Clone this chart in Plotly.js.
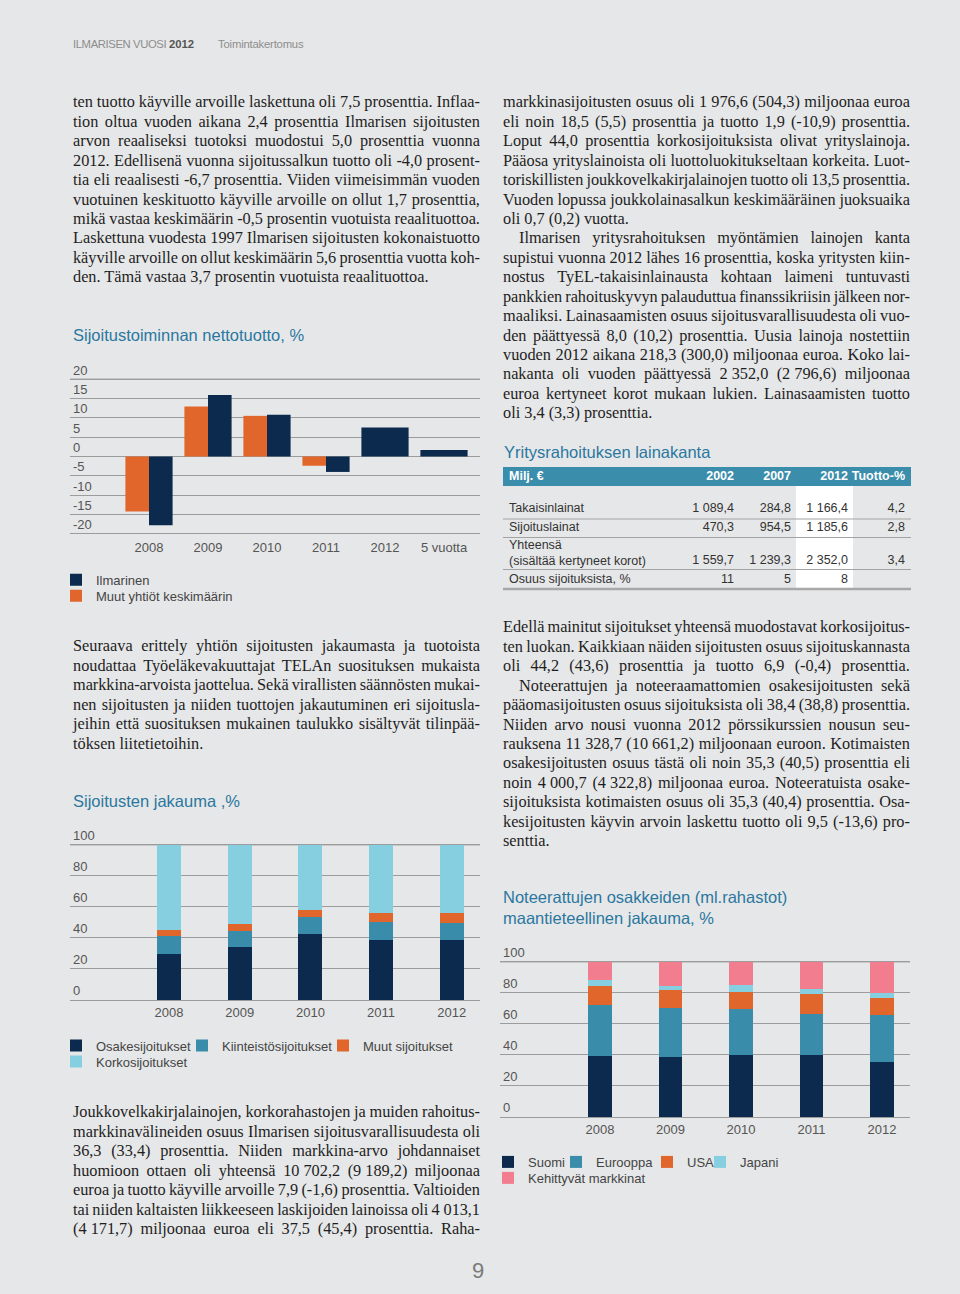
<!DOCTYPE html>
<html>
<head>
<meta charset="utf-8">
<script src="https://cdn.plot.ly/plotly-3.0.1.min.js"></script>
<style>
html,body{margin:0;padding:0;background:#e6e7e8;}
#page{position:relative;width:960px;height:1294px;background:#e6e7e8;overflow:hidden;}
.ln{position:absolute;font-family:'Liberation Serif',serif;color:#1e1e1e;white-space:nowrap;box-sizing:border-box;}
.ln.just{display:flex;justify-content:space-between;}
.chart{position:absolute;}
#hdr{position:absolute;left:73px;top:38px;font-family:'Liberation Sans',sans-serif;font-size:11.3px;color:#8d8d8d;letter-spacing:-0.4px;}
#hdr b{color:#555;letter-spacing:0;}
#pgn{position:absolute;left:472px;top:1258px;font-family:'Liberation Sans',sans-serif;font-size:22px;color:#7a7a7a;}
</style>
</head>
<body>
<div id="page">
  <div id="hdr">ILMARISEN VUOSI <b>2012</b><span style="margin-left:24px;letter-spacing:-0.2px;">Toimintakertomus</span></div>
  <div id="pgn">9</div>
  <div id="c1" class="chart" style="left:60px;top:315px;width:440px;height:300px;"></div>
  <div id="c2" class="chart" style="left:60px;top:780px;width:440px;height:300px;"></div>
  <div id="c3" class="chart" style="left:490px;top:875px;width:440px;height:320px;"></div>
  <div id="tb" class="chart" style="left:490px;top:440px;width:440px;height:160px;"></div>
</div>
<script>
// ---------- Chart 1 data: Sijoitustoiminnan nettotuotto, % ----------
const c1Categories = ['2008', '2009', '2010', '2011', '2012', '5 vuotta'];
const c1Ilmarinen = [-17.8, 15.9, 10.8, -4.0, 7.5, 1.7];
const c1Muut = [-14.2, 12.9, 10.5, -2.4, null, null];
const c1Ticks = [-20, -15, -10, -5, 0, 5, 10, 15, 20];

// ---------- Chart 2 data: Sijoitusten jakauma, % ----------
const c2Years = ['2008', '2009', '2010', '2011', '2012'];
const c2Osake = [29.4, 34.5, 42.5, 38.8, 38.4];
const c2Kiinteisto = [11.6, 9.9, 10.7, 11.4, 11.4];
const c2Muut = [4.3, 4.7, 5.0, 6.2, 6.0];
const c2Korko = [54.7, 50.9, 41.8, 43.6, 44.2];

// ---------- Chart 3 data: Noteerattujen osakkeiden maantieteellinen jakauma, % ----------
const c3Years = ['2008', '2009', '2010', '2011', '2012'];
const c3Suomi = [39.5, 38.8, 39.7, 40.3, 35.2];
const c3Eurooppa = [32.8, 31.2, 29.8, 26.0, 30.3];
const c3USA = [12.2, 12.2, 10.8, 12.7, 11.3];
const c3Japani = [3.7, 2.1, 4.7, 3.8, 3.2];
const c3Kehittyvat = [11.8, 15.7, 15.0, 17.2, 20.0];
const pctTicks = [0, 20, 40, 60, 80, 100];

// ---------- Table data: Yritysrahoituksen lainakanta ----------
const tblHeader = ['Milj. €', '2002', '2007', '2012', 'Tuotto-%'];
const tblRowLabels = ['Takaisinlainat', 'Sijoituslainat', 'Yhteensä<br>(sisältää kertyneet korot)', 'Osuus sijoituksista, %'];
const tbl2002 = ['1 089,4', '470,3', '1 559,7', '11'];
const tbl2007 = ['284,8', '954,5', '1 239,3', '5'];
const tbl2012 = ['1 166,4', '1 185,6', '2 352,0', '8'];
const tblTuotto = ['4,2', '2,8', '3,4', ''];

// ---------- Body text ----------
const leftPara1 = [
 'ten tuotto käyville arvoille laskettuna oli 7,5 prosenttia. Inflaa-',
 'tion oltua vuoden aikana 2,4 prosenttia Ilmarisen sijoitusten',
 'arvon reaaliseksi tuotoksi muodostui 5,0 prosenttia vuonna',
 '2012. Edellisenä vuonna sijoitussalkun tuotto oli -4,0 prosent-',
 'tia eli reaalisesti -6,7 prosenttia. Viiden viimeisimmän vuoden',
 'vuotuinen keskituotto käyville arvoille on ollut 1,7 prosenttia,',
 'mikä vastaa keskimäärin -0,5 prosentin vuotuista reaalituottoa.',
 'Laskettuna vuodesta 1997 Ilmarisen sijoitusten kokonaistuotto',
 'käyville arvoille on ollut keskimäärin 5,6 prosenttia vuotta koh-',
 'den. Tämä vastaa 3,7 prosentin vuotuista reaalituottoa.'
];
const leftPara2 = [
 'Seuraava erittely yhtiön sijoitusten jakaumasta ja tuotoista',
 'noudattaa Työeläkevakuuttajat TELAn suosituksen mukaista',
 'markkina-arvoista jaottelua. Sekä virallisten säännösten mukai-',
 'nen sijoitusten ja niiden tuottojen jakautuminen eri sijoitusla-',
 'jeihin että suosituksen mukainen taulukko sisältyvät tilinpää-',
 'töksen liitetietoihin.'
];
const leftPara3 = [
 'Joukkovelkakirjalainojen, korkorahastojen ja muiden rahoitus-',
 'markkinavälineiden osuus Ilmarisen sijoitusvarallisuudesta oli',
 '36,3 (33,4) prosenttia. Niiden markkina-arvo johdannaiset',
 'huomioon ottaen oli yhteensä 10 702,2 (9 189,2) miljoonaa',
 'euroa ja tuotto käyville arvoille 7,9 (-1,6) prosenttia. Valtioiden',
 'tai niiden kaltaisten liikkeeseen laskijoiden lainoissa oli 4 013,1',
 '(4 171,7) miljoonaa euroa eli 37,5 (45,4) prosenttia. Raha-'
];
const rightPara1 = [
 'markkinasijoitusten osuus oli 1 976,6 (504,3) miljoonaa euroa',
 'eli noin 18,5 (5,5) prosenttia ja tuotto 1,9 (-10,9) prosenttia.',
 'Loput 44,0 prosenttia korkosijoituksista olivat yrityslainoja.',
 'Pääosa yrityslainoista oli luottoluokitukseltaan korkeita. Luot-',
 'toriskillisten joukkovelkakirjalainojen tuotto oli 13,5 prosenttia.',
 'Vuoden lopussa joukkolainasalkun keskimääräinen juoksuaika',
 'oli 0,7 (0,2) vuotta.'
];
const rightPara2 = [
 'Ilmarisen yritysrahoituksen myöntämien lainojen kanta',
 'supistui vuonna 2012 lähes 16 prosenttia, koska yritysten kiin-',
 'nostus TyEL-takaisinlainausta kohtaan laimeni tuntuvasti',
 'pankkien rahoituskyvyn palauduttua finanssikriisin jälkeen nor-',
 'maaliksi. Lainasaamisten osuus sijoitusvarallisuudesta oli vuo-',
 'den päättyessä 8,0 (10,2) prosenttia. Uusia lainoja nostettiin',
 'vuoden 2012 aikana 218,3 (300,0) miljoonaa euroa. Koko lai-',
 'nakanta oli vuoden päättyessä 2 352,0 (2 796,6) miljoonaa',
 'euroa kertyneet korot mukaan lukien. Lainasaamisten tuotto',
 'oli 3,4 (3,3) prosenttia.'
];
const rightPara3 = [
 'Edellä mainitut sijoitukset yhteensä muodostavat korkosijoitus-',
 'ten luokan. Kaikkiaan näiden sijoitusten osuus sijoituskannasta',
 'oli 44,2 (43,6) prosenttia ja tuotto 6,9 (-0,4) prosenttia.',
 'Noteerattujen ja noteeraamattomien osakesijoitusten sekä',
 'pääomasijoitusten osuus sijoituksista oli 38,4 (38,8) prosenttia.',
 'Niiden arvo nousi vuonna 2012 pörssikurssien nousun seu-',
 'rauksena 11 328,7 (10 661,2) miljoonaan euroon. Kotimaisten',
 'osakesijoitusten osuus tästä oli noin 35,3 (40,5) prosenttia eli',
 'noin 4 000,7 (4 322,8) miljoonaa euroa. Noteeratuista osake-',
 'sijoituksista kotimaisten osuus oli 35,3 (40,4) prosenttia. Osa-',
 'kesijoitusten käyvin arvoin laskettu tuotto oli 9,5 (-13,6) pro-',
 'senttia.'
];

// ---------- Text layout ----------
const page = document.getElementById('page');
const LH = 19.45, FS = 16.3, COLW = 407;
const mctx = document.createElement('canvas').getContext('2d');
function addPara(left, firstCenter, lines, lastJustified, indents) {
  lines.forEach((raw, i) => {
    const t = raw.replace(/(\d) (\d{3})/g, '$1\u00a0$2');
    const d = document.createElement('div');
    const isLast = (i === lines.length - 1) && !lastJustified;
    d.className = 'ln' + (isLast ? '' : ' just');
    d.style.left = left + 'px';
    d.style.top = (firstCenter + i * LH - LH / 2) + 'px';
    d.style.width = COLW + 'px';
    d.style.height = LH + 'px';
    d.style.lineHeight = LH + 'px';
    d.style.fontSize = FS + 'px';
    const ind = (indents && indents.indexOf(i) >= 0) ? 16 : 0;
    d.style.paddingLeft = ind + 'px';
    const words = t.split(' ');
    if (isLast) {
      d.textContent = t;
    } else {
      mctx.font = FS + "px 'Liberation Serif'";
      const wordsW = words.reduce((s, w) => s + mctx.measureText(w).width, 0);
      const need = wordsW + (words.length - 1) * 3.2;
      const avail = COLW - ind;
      if (need > avail) {
        const nChars = t.replace(/ /g, '').length;
        d.style.letterSpacing = (-(need - avail) / nChars) + 'px';
      }
      words.forEach(w => { const s = document.createElement('span'); s.textContent = w; d.appendChild(s); });
    }
    page.appendChild(d);
  });
}
addPara(73, 102, leftPara1, false);
addPara(73, 646, leftPara2, false);
addPara(73, 1112, leftPara3, true);
addPara(503, 102, rightPara1, false);
addPara(503, 238, rightPara2, false, [0]);
addPara(503, 627, rightPara3, false, [3]);

// ---------- Styles ----------
const NAVY = '#0b2a4d', ORANGE = '#e0662c', TEAL = '#3a8cab', LIGHT = '#86cfe0', PINK = '#f27d8e';
const GRID = '#9c9c9c', TICK = '#555555', TITLE = '#2a77a0', BG = '#e6e7e8';
const FONT = 'Liberation Sans, Arial, sans-serif';
const cfg = {staticPlot: true, displayModeBar: false};

// geometry helper: div box, plot-area pixel edges (page coords), y range, x category mapping
function geom(divL, divT, divW, divH, plotL, plotR, yv1, py1, yv2, py2, ytop, ybot, x0px, xstep) {
  const unit = (py2 - py1) / (yv1 - yv2);           // px per y unit
  const topPx = py1 - (ytop - yv1) * unit;
  const botPx = py2 + (yv2 - ybot) * unit;
  return {
    margin: {l: plotL - divL, r: divL + divW - plotR, t: topPx - divT, b: divT + divH - botPx, autoexpand: false},
    yrange: [ybot, ytop],
    xrange: [(plotL - x0px) / xstep, (plotR - x0px) / xstep],
    px: x => (x - plotL) / (plotR - plotL),
    py: y => (botPx - y) / (botPx - topPx),
    w: divW, h: divH
  };
}

function baseLayout(g, titleText, titleX, titleY, tickvals, ticktext, yticks) {
  const topTick = Math.max.apply(null, yticks);
  return {
    width: g.w, height: g.h, margin: g.margin,
    paper_bgcolor: 'rgba(0,0,0,0)', plot_bgcolor: 'rgba(0,0,0,0)',
    font: {family: FONT, size: 13, color: TICK},
    title: {text: titleText, font: {family: FONT, size: 16.5, color: TITLE},
            x: titleX, xref: 'container', xanchor: 'left', y: titleY, yref: 'container', yanchor: 'middle'},
    xaxis: {range: g.xrange, tickvals: tickvals, ticktext: ticktext, showgrid: false, zeroline: false,
            showline: false, ticks: '', ticklabelstandoff: 3, tickfont: {family: FONT, size: 13, color: TICK}, fixedrange: true},
    yaxis: {range: g.yrange, tickvals: yticks, ticktext: yticks.map(String), showgrid: true, gridcolor: GRID, gridwidth: 1,
            zeroline: true, zerolinecolor: GRID, zerolinewidth: 1, showline: false, ticks: '',
            ticklabelposition: 'inside top', ticklabeloverflow: 'allow',
            tickfont: {family: FONT, size: 13, color: TICK}, fixedrange: true},
    // the top grid line, also drawn explicitly on the y scale
    shapes: [{type: 'line', xref: 'paper', x0: 0, x1: 1, yref: 'y', y0: topTick, y1: topTick,
              line: {color: GRID, width: 1}, layer: 'below'}],
    showlegend: true, hovermode: false
  };
}
// place a one-item legend so that its swatch starts near page pixel (sx) and its row is centred at (sy)
function legendBox(g, sx, sy) {
  return {orientation: 'h', x: g.px(sx - 17), xanchor: 'left', y: g.py(sy - 14), yanchor: 'top',
          font: {family: FONT, size: 13, color: '#444'}, bgcolor: 'rgba(0,0,0,0)'};
}
const LEG = ['legend', 'legend2', 'legend3', 'legend4', 'legend5'];

// ---------- Chart 1 ----------
(function () {
  const g = geom(60, 315, 440, 300, 70, 480, 20, 379.3, -20, 534, 27, -20.3, 149, 59);
  const idx = c1Categories.map((c, i) => i);
  const single = c1Muut.map(v => v === null);
  const traces = [
    {type: 'bar', name: 'Ilmarinen', x: idx, y: c1Ilmarinen, marker: {color: NAVY}, legend: LEG[0],
     width: single.map(s => s ? 0.8 : 0.4), offset: single.map(s => s ? -0.4 : 0)},
    {type: 'bar', name: 'Muut yhtiöt keskimäärin', x: idx, y: c1Muut, marker: {color: ORANGE}, legend: LEG[1],
     width: 0.4, offset: -0.4}
  ];
  const lay = baseLayout(g, 'Sijoitustoiminnan nettotuotto, %', 13 / 440, 1 - 20 / 300, idx, c1Categories, c1Ticks);
  lay.barmode = 'overlay';
  lay.legend = legendBox(g, 73, 579);
  lay.legend2 = legendBox(g, 73, 595);
  Plotly.newPlot('c1', traces, lay, cfg);
})();

// ---------- Chart 2 ----------
(function () {
  const g = geom(60, 780, 440, 300, 70, 480, 100, 845, 0, 1000.3, 118, 0, 169, 70.7);
  const idx = c2Years.map((c, i) => i);
  const mk = (name, y, color, k) => ({type: 'bar', name: name, x: idx, y: y, marker: {color: color},
    width: 0.34, legend: LEG[k]});
  const traces = [
    mk('Osakesijoitukset', c2Osake, NAVY, 0),
    mk('Kiinteistösijoitukset', c2Kiinteisto, TEAL, 1),
    mk('Muut sijoitukset', c2Muut, ORANGE, 2),
    mk('Korkosijoitukset', c2Korko, LIGHT, 3)
  ];
  const lay = baseLayout(g, 'Sijoitusten jakauma ,%', 13 / 440, 1 - 21 / 300, idx, c2Years, pctTicks);
  lay.barmode = 'stack';
  lay.legend = legendBox(g, 73, 1045);
  lay.legend2 = legendBox(g, 199, 1045);
  lay.legend3 = legendBox(g, 340, 1045);
  lay.legend4 = legendBox(g, 73, 1061);
  Plotly.newPlot('c2', traces, lay, cfg);
})();

// ---------- Chart 3 ----------
(function () {
  const g = geom(490, 875, 440, 320, 500, 910, 100, 961.7, 0, 1117, 118, 0, 600, 70.5);
  const idx = c3Years.map((c, i) => i);
  const mk = (name, y, color, k) => ({type: 'bar', name: name, x: idx, y: y, marker: {color: color},
    width: 0.34, legend: LEG[k]});
  const traces = [
    mk('Suomi', c3Suomi, NAVY, 0),
    mk('Eurooppa', c3Eurooppa, TEAL, 1),
    mk('USA', c3USA, ORANGE, 2),
    mk('Japani', c3Japani, LIGHT, 3),
    mk('Kehittyvät markkinat', c3Kehittyvat, PINK, 4)
  ];
  const lay = baseLayout(g, 'Noteerattujen osakkeiden (ml.rahastot)<br>maantieteellinen jakauma, %', 13 / 440, 1 - 27.5 / 320,
    idx, c3Years, pctTicks);
  lay.barmode = 'stack';
  lay.legend = legendBox(g, 505, 1161);
  lay.legend2 = legendBox(g, 573, 1161);
  lay.legend3 = legendBox(g, 664, 1161);
  lay.legend4 = legendBox(g, 717, 1161);
  lay.legend5 = legendBox(g, 505, 1177);
  Plotly.newPlot('c3', traces, lay, cfg);
})();

// ---------- Table (drawn with scatter text on hidden pixel axes) ----------
(function () {
  const L = 490, T = 440, W = 440, H = 160;
  const X = p => p - L, Y = p => p - T;
  const nb = s => s.replace(/ /g, '\u00a0');
  const multi = tblRowLabels.map(l => l.indexOf('<br>') >= 0);
  const colRight = [734, 791, 848, 905];
  const labelX = 509;
  const headY = 477;
  const rowY = [509, 528, 554, 580];
  const numY = rowY.map((y, i) => multi[i] ? y + 7 : y);
  const numCols = [tbl2002, tbl2007, tbl2012, tblTuotto];
  const tf = {family: FONT, size: 12.5, color: '#333333'};
  const hf = {family: FONT, size: 12.5, color: '#ffffff', weight: 'bold'};
  const traces = [];
  traces.push({type: 'scatter', mode: 'text', x: [X(labelX)], y: [Y(headY)], text: [tblHeader[0]],
               textposition: 'middle right', textfont: hf});
  traces.push({type: 'scatter', mode: 'text', x: colRight.map(X), y: colRight.map(() => Y(headY)),
               text: tblHeader.slice(1), textposition: 'middle left', textfont: hf});
  traces.push({type: 'scatter', mode: 'text', x: rowY.map(() => X(labelX)), y: rowY.map(Y),
               text: tblRowLabels, textposition: 'middle right', textfont: tf});
  numCols.forEach((col, k) => {
    traces.push({type: 'scatter', mode: 'text', x: col.map(() => X(colRight[k])), y: numY.map(Y),
                 text: col.map(nb), textposition: 'middle left', textfont: tf});
  });
  const shapes = [
    {type: 'rect', xref: 'x', yref: 'y', x0: X(503), x1: X(911), y0: Y(467), y1: Y(486),
     fillcolor: '#3b8dac', line: {width: 0}, layer: 'below'},
    {type: 'rect', xref: 'x', yref: 'y', x0: X(796), x1: X(853), y0: Y(486), y1: Y(588),
     fillcolor: '#ffffff', line: {width: 0}, layer: 'below'}
  ];
  [519, 537.5, 569.5].forEach(y => shapes.push({type: 'line', xref: 'x', yref: 'y', x0: X(503), x1: X(911),
     y0: Y(y), y1: Y(y), line: {color: '#a3a3a3', width: 1}, layer: 'below'}));
  shapes.push({type: 'line', xref: 'x', yref: 'y', x0: X(503), x1: X(911), y0: Y(589), y1: Y(589),
     line: {color: '#a8a8a8', width: 2.5}, layer: 'below'});
  const lay = {
    width: W, height: H, margin: {l: 0, r: 0, t: 0, b: 0, autoexpand: false},
    paper_bgcolor: 'rgba(0,0,0,0)', plot_bgcolor: 'rgba(0,0,0,0)',
    font: {family: FONT, size: 12.5, color: '#333'},
    title: {text: 'Yritysrahoituksen lainakanta', font: {family: FONT, size: 16.5, color: TITLE},
            x: 14 / W, xref: 'container', xanchor: 'left', y: 1 - 12 / H, yref: 'container', yanchor: 'middle'},
    xaxis: {range: [0, W], visible: false, fixedrange: true},
    yaxis: {range: [H, 0], visible: false, fixedrange: true},
    showlegend: false, hovermode: false, shapes: shapes
  };
  Plotly.newPlot('tb', traces, lay, cfg);
})();
</script>
</body>
</html>
